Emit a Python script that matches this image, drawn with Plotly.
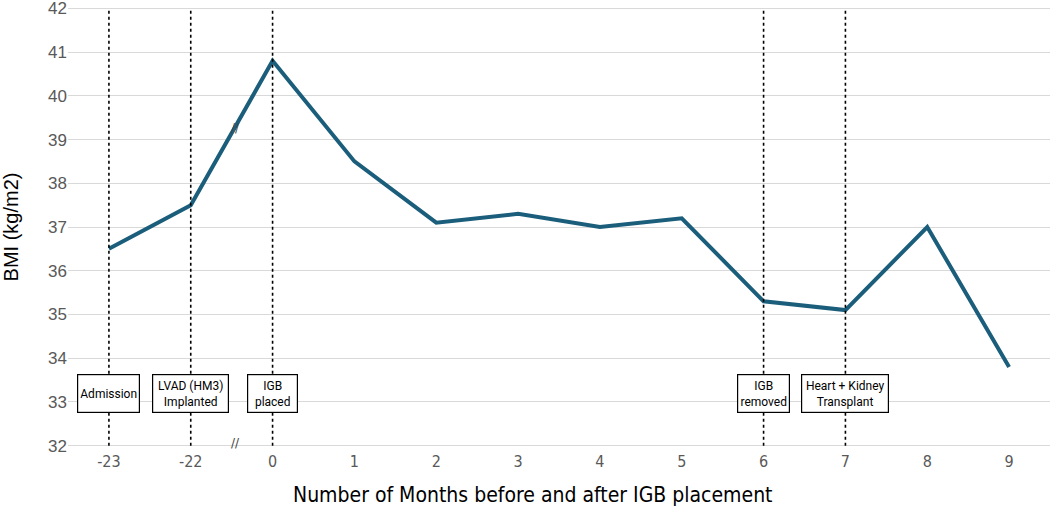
import plotly.graph_objects as go

months = ["-23", "-22", "0", "1", "2", "3", "4", "5", "6", "7", "8", "9"]
bmi = [36.5, 37.5, 40.8, 38.5, 37.1, 37.3, 37.0, 37.2, 35.3, 35.1, 37.0, 33.8]
event_months = ["-23", "-22", "0", "6", "7"]
event_labels = ["Admission", "LVAD (HM3)<br>Implanted", "IGB<br>placed", "IGB<br>removed", "Heart + Kidney<br>Transplant"]
y_ticks = list(range(32, 43))

# styling: box widths in px for the event labels
box_widths = [57, 71, 45, 47, 82]

idx = list(range(len(months)))

fig = go.Figure()

fig.add_trace(go.Scatter(x=idx, y=bmi, mode="lines",
                         line=dict(color="#1b5e7b", width=4), hoverinfo="skip"))

for m in event_months:
    i = months.index(m)
    fig.add_shape(type="line", xref="x", yref="y", x0=i, x1=i, y0=32, y1=42,
                  line=dict(color="black", width=1.6, dash="dot"), layer="above")

for m, lab, w in zip(event_months, event_labels, box_widths):
    i = months.index(m)
    fig.add_annotation(x=i, y=33.2, xref="x", yref="y", text=lab, showarrow=False,
                       font=dict(family="Roboto, Arial, sans-serif", size=12, color="black"),
                       bgcolor="white", bordercolor="black", borderwidth=1.2, borderpad=2,
                       width=w, height=33, align="center", valign="middle")

# axis break marks between -22 and 0
for yv in [39.27, 32.07]:
    fig.add_annotation(x=1.55, y=yv, xref="x", yref="y", text="//", showarrow=False,
                       font=dict(family="DejaVu Sans", size=12, color="#444444"))

fig.add_annotation(xref="paper", yref="paper", x=0.474, y=0, yanchor="middle", yshift=-45,
                   text="Number of Months before and after IGB placement", showarrow=False,
                   font=dict(family="DejaVu Sans Condensed, Arial Narrow, Arial", size=21, color="black"))

fig.update_layout(
    width=1052, height=514,
    margin=dict(l=68, r=2, t=4, b=64),
    plot_bgcolor="white", paper_bgcolor="white",
    showlegend=False,
    xaxis=dict(range=[-0.5, len(months) - 0.5], tickvals=idx, ticktext=months,
               showgrid=False, zeroline=False, showline=False, ticks="",
               tickfont=dict(family="DejaVu Sans Condensed, Arial Narrow, Arial", size=16, color="#595959")),
    yaxis=dict(range=[31.9, 42.1], tickvals=y_ticks, showgrid=True, gridcolor="#d9d9d9", gridwidth=1.3,
               zeroline=False, showline=False, ticks="", automargin=False, ticklabeloverflow="allow",
               tickfont=dict(family="Arial", size=17, color="#595959"),
               title=dict(text="BMI (kg/m2)", font=dict(family="Arial", size=20, color="black"), standoff=26)),
)

fig.write_html("out.html", config={"displayModeBar": False},
               post_script="document.body.style.margin='0';document.body.style.padding='0';")
